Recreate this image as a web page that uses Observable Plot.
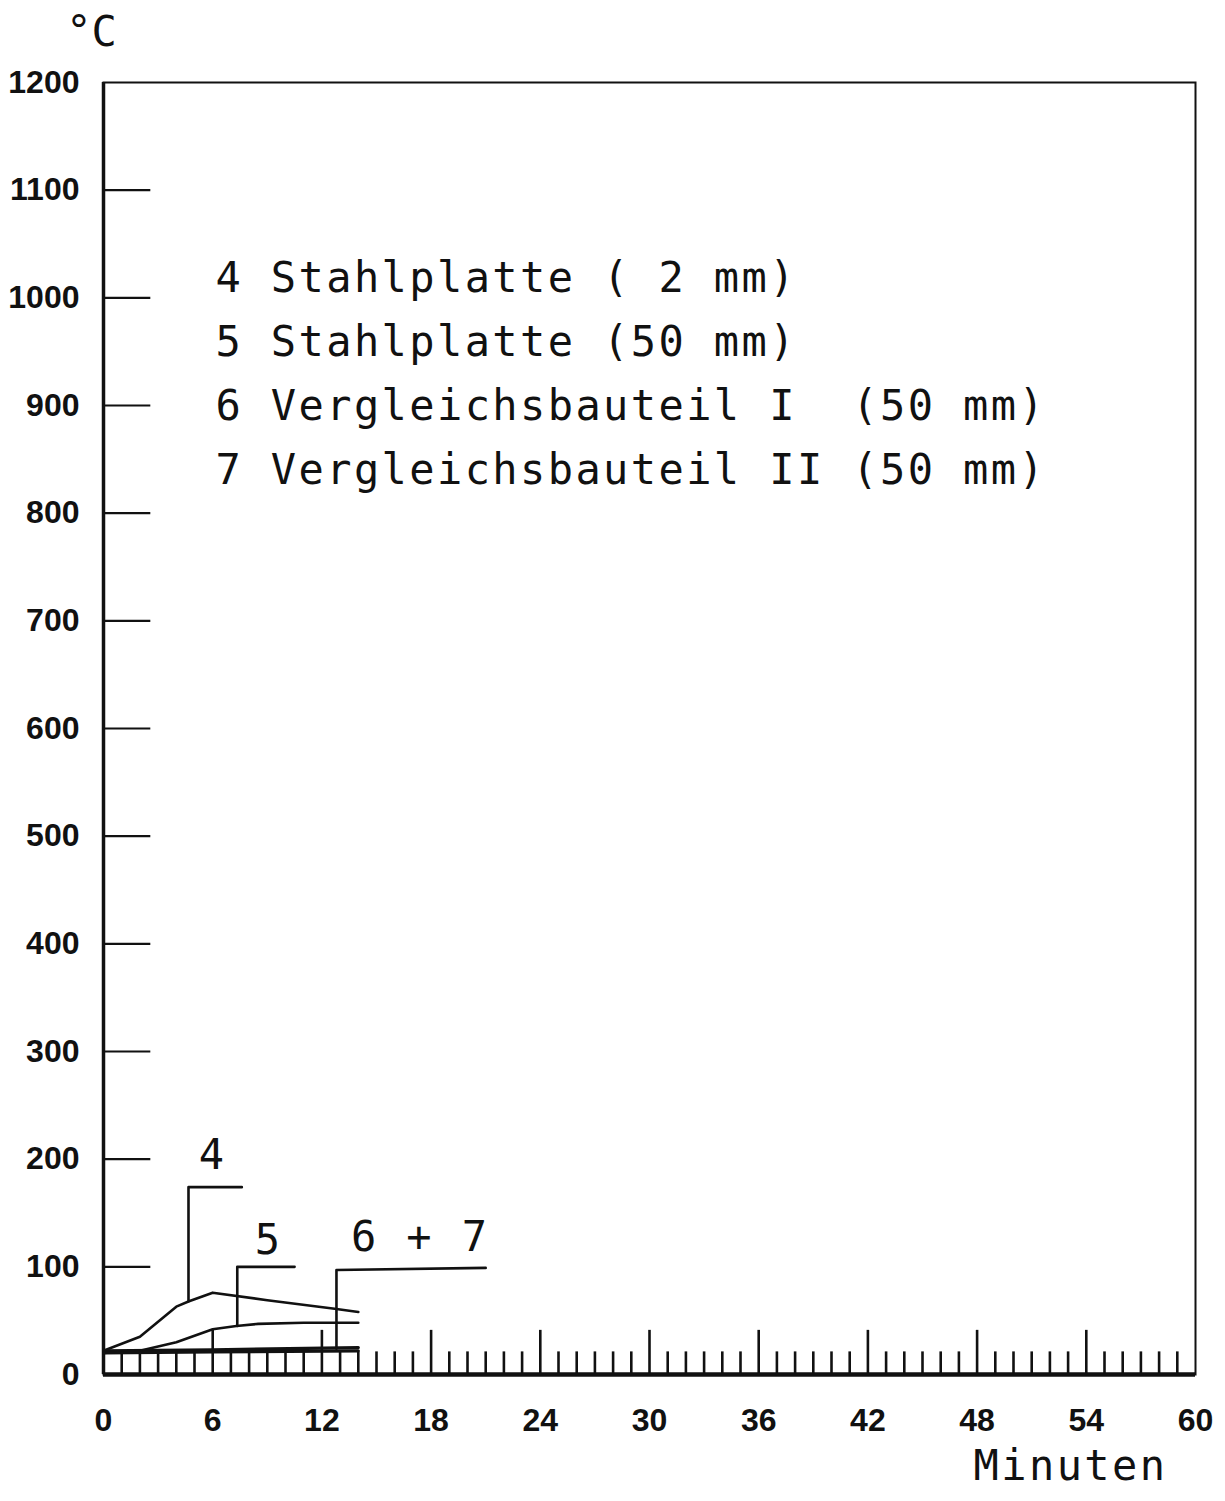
<!DOCTYPE html>
<html><head><meta charset="utf-8">
<script src="https://cdn.jsdelivr.net/npm/d3@7"></script>
<script src="https://cdn.jsdelivr.net/npm/@observablehq/plot@0.6"></script>
<style>
html,body{margin:0;padding:0;background:#fff;}
.mono text{letter-spacing:2.4px;}
</style></head><body><div id="chart"></div>
<script>
// ---- data ----
const xTicks = [0, 6, 12, 18, 24, 30, 36, 42, 48, 54, 60];
const yTicks = [0, 100, 200, 300, 400, 500, 600, 700, 800, 900, 1000, 1100, 1200];
const minutesMinor = d3.range(1, 60).filter(m => m % 6 !== 0);
const minutesMajor = [6, 12, 18, 24, 30, 36, 42, 48, 54];

// Kurve 4: Stahlplatte (2 mm)
const t4 = [0, 2, 4, 4.7, 6, 9, 12.7, 14];
const v4 = [22, 35, 63, 68, 76, 69, 61, 58];
// Kurve 5: Stahlplatte (50 mm)
const t5 = [0, 2, 4, 6, 7.3, 8.5, 11, 14];
const v5 = [20, 22, 30, 42, 45, 47, 48, 48];
// Kurve 6: Vergleichsbauteil I
const t6 = [0, 6, 14];
const v6 = [22, 23, 25];
// Kurve 7: Vergleichsbauteil II
const t7 = [0, 6, 14];
const v7 = [20, 21, 22];

const legendLines = [
  "4 Stahlplatte ( 2 mm)",
  "5 Stahlplatte (50 mm)",
  "6 Vergleichsbauteil I  (50 mm)",
  "7 Vergleichsbauteil II (50 mm)"
];
const curveLabels = ["4", "5", "6 + 7"];
// leader lines (minutes, °C) from curve up to label
const leader4 = {t: [4.67, 4.67, 7.6], v: [68, 174, 174]};
const leader5 = {t: [7.35, 7.35, 10.5], v: [45, 100, 100]};
const leader67 = {t: [12.8, 12.8, 21], v: [24, 97, 99]};
const labelT = [6.0, 9.07, 17.4];
const labelV = [203, 124, 127];

// ---- build tables ----
const series = [];
[[t4, v4, "4"], [t5, v5, "5"], [t6, v6, "6"], [t7, v7, "7"]].forEach(([t, v, s]) =>
  t.forEach((x, i) => series.push({s, t: x, v: v[i]})));
const leaders = [];
[[leader4, "4"], [leader5, "5"], [leader67, "67"]].forEach(([L, s]) =>
  L.t.forEach((x, i) => leaders.push({s, t: x, v: L.v[i]})));
const labels = curveLabels.map((text, i) => ({text, t: labelT[i], v: labelV[i]}));

const ink = "#111";
const mono = "'DejaVu Sans Mono', 'Liberation Mono', monospace";
const numFont = "'Liberation Sans', Arial, sans-serif";

const chart = Plot.plot({
  width: 1225,
  height: 1501,
  marginLeft: 103,
  marginRight: 30,
  marginTop: 82,
  marginBottom: 127,
  style: {background: "#fff", color: ink, overflow: "visible"},
  x: {domain: [0, 60]},
  y: {domain: [0, 1200]},
  marks: [
    Plot.frame({stroke: ink, strokeWidth: 2}),
    // inner y ticks
    Plot.ruleY(yTicks.filter(d => d > 0 && d < 1200), {x1: 0, x2: 2.6, stroke: ink, strokeWidth: 2.2}),
    // bottom minute ticks
    Plot.ruleX(minutesMinor, {y1: 0, y2: 21, stroke: ink, strokeWidth: 2.6}),
    Plot.ruleX(minutesMajor, {y1: 0, y2: 41, stroke: ink, strokeWidth: 2.6}),
    Plot.ruleX([0], {stroke: ink, strokeWidth: 3.5}),
    Plot.ruleY([0], {stroke: ink, strokeWidth: 4.5}),
    // curves
    Plot.line(series.filter(d => d.s === "4" || d.s === "5"), {x: "t", y: "v", z: "s", stroke: ink, strokeWidth: 2.6}),
    Plot.line(series.filter(d => d.s === "6" || d.s === "7"), {x: "t", y: "v", z: "s", stroke: ink, strokeWidth: 3.2}),
    // leaders
    Plot.line(leaders, {x: "t", y: "v", z: "s", stroke: ink, strokeWidth: 2.6, curve: "linear"}),
    Plot.text(labels, {x: "t", y: "v", text: "text", fontFamily: mono, fontSize: 42, fill: ink, className: "mono"}),
    // legend
    Plot.text([legendLines.join("\n")], {
      frameAnchor: "top-left", dx: 112, dy: 164, textAnchor: "start", lineAnchor: "top",
      lineHeight: 1.524, fontFamily: mono, fontSize: 42, fill: ink, className: "mono"
    }),
    // axis unit labels
    Plot.text(["°C"], {frameAnchor: "top-left", dx: -12, dy: -50, textAnchor: "middle", lineAnchor: "middle",
      fontFamily: mono, fontSize: 42, fill: ink}),
    Plot.text(["Minuten"], {frameAnchor: "bottom-right", dx: -125, dy: 92, textAnchor: "middle", lineAnchor: "middle",
      fontFamily: mono, fontSize: 42, fill: ink, className: "mono"}),
    // axes
    Plot.axisX(xTicks, {tickSize: 0, tickPadding: 34, label: null, tickFormat: d => String(d),
      fontFamily: numFont, fontWeight: "bold", fontSize: 32, fill: ink}),
    Plot.axisY(yTicks, {tickSize: 0, tickPadding: 24, label: null, tickFormat: d => String(d),
      fontFamily: numFont, fontWeight: "bold", fontSize: 32, fill: ink})
  ]
});
document.getElementById("chart").appendChild(chart);
</script></body></html>
